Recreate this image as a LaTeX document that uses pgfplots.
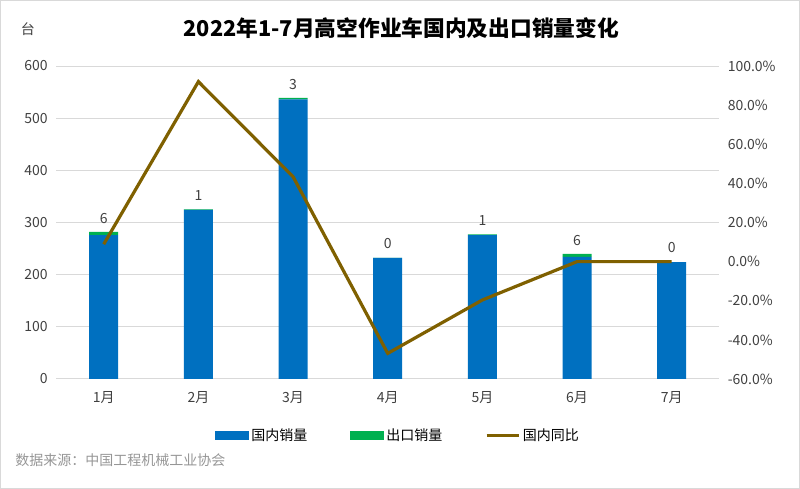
\documentclass[border=0pt]{standalone}
\usepackage{pgfplots}
\pgfplotsset{compat=1.18}
\usepackage{fontspec}
\setmainfont{Noto Sans CJK SC}
\definecolor{dom}{RGB}{0,112,192}
\definecolor{exp}{RGB}{0,176,80}
\definecolor{yoy}{RGB}{127,96,0}
\definecolor{gridc}{RGB}{217,217,217}
\definecolor{txt}{RGB}{64,64,64}
\definecolor{src}{RGB}{150,150,150}

\begin{document}
\begin{tikzpicture}
% 1 px of the reference = 0.75pt
\path[use as bounding box] (0pt,0pt) rectangle (600pt,366.75pt);
\draw[gridc] (0.375pt,0.375pt) rectangle (599.625pt,366.375pt);
\node[font=\bfseries\fontsize{16.3pt}{19pt}\selectfont] at (301pt,345.75pt) {2022年1-7月高空作业车国内及出口销量变化};
\node[font=\fontsize{10.5pt}{12pt}\selectfont, text=txt] at (21pt,345pt) {台};
\node[font=\fontsize{10.5pt}{12pt}\selectfont, text=src, anchor=west, inner sep=0pt] at (11.25pt,21.5pt) {数据来源：中国工程机械工业协会};

\begin{axis}[
    at={(42.3pt,82.5pt)}, anchor=south west,
    scale only axis, width=497pt, height=234.75pt,
    ybar stacked, bar width=21.75pt,
    xmin=-0.5, xmax=6.5, ymin=0, ymax=600,
    xtick={0,...,6},
    xticklabels={1月,2月,3月,4月,5月,6月,7月},
    ytick={0,100,...,600},
    axis line style={draw=none},
    major tick length=0pt,
    ymajorgrids, major grid style={gridc, line width=0.75pt},
    tick label style={font=\fontsize{10.5pt}{12pt}\selectfont, text=txt},
    /pgf/number format/assume math mode=true,
    yticklabel style={xshift=-3pt},
    xticklabel style={yshift=-5.5pt},
]
\addplot[fill=dom, draw=none] coordinates {
    (0,276) (1,324) (2,536) (3,232) (4,276) (5,234) (6,224)
};
% export: zero months get a hairline height so that their label "0" is drawn
\addplot[fill=exp, draw=none, point meta=explicit,
    nodes near coords={\pgfmathprintnumber{\pgfplotspointmeta}},
    nodes near coords style={font=\fontsize{10.5pt}{12pt}\selectfont, text=txt, anchor=south, yshift=3.5pt}]
coordinates {
    (0,6) [6] (1,1) [1] (2,3) [3] (3,0.01) [0] (4,1) [1] (5,6) [6] (6,0.01) [0]
};
\end{axis}

\begin{axis}[
    at={(42.3pt,82.5pt)}, anchor=south west,
    scale only axis, width=497pt, height=234.75pt,
    xmin=-0.5, xmax=6.5, ymin=-60, ymax=100,
    axis x line=none, axis y line*=right,
    axis line style={draw=none},
    major tick length=0pt,
    ytick={-60,-40,...,100},
    yticklabel={\pgfmathprintnumber[fixed,fixed zerofill,precision=1]{\tick}\%},
    tick label style={font=\fontsize{10.5pt}{12pt}\selectfont, text=txt},
    /pgf/number format/assume math mode=true,
    yticklabel style={xshift=3pt},
    legend columns=3,
    legend style={draw=none, fill=none, at={(0.516,-0.18)}, anchor=center,
        font=\fontsize{10.5pt}{12pt}\selectfont,
        /tikz/every even column/.append style={column sep=30pt}},
    legend cell align=left,
]
\addlegendimage{legend image code/.code={\fill[dom] (0pt,-3pt) rectangle (24.75pt,3pt);}}
\addlegendentry{国内销量}
\addlegendimage{legend image code/.code={\fill[exp] (0pt,-3pt) rectangle (24.75pt,3pt);}}
\addlegendentry{出口销量}
\addplot[yoy, line width=2.4pt, mark=none,
    legend image code/.code={\draw[yoy, line width=2.4pt] (0pt,0pt) -- (24pt,0pt);}]
coordinates {
    (0,8.9) (1,92) (2,43.4) (3,-46.9) (4,-19.6) (5,0) (6,0)
};
\addlegendentry{国内同比}
\end{axis}
\end{tikzpicture}
\end{document}
